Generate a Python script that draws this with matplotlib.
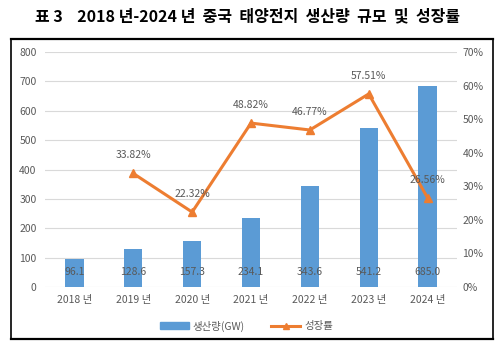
import matplotlib.pyplot as plt
from matplotlib.lines import Line2D
from matplotlib.patches import Patch
import numpy as np

years = ['2018 년', '2019 년', '2020 년', '2021 년', '2022 년', '2023 년', '2024 년']
output_gw = [96.1, 128.6, 157.3, 234.1, 343.6, 541.2, 685.0]
growth_years = ['2019 년', '2020 년', '2021 년', '2022 년', '2023 년', '2024 년']
growth_pct = [33.82, 22.32, 48.82, 46.77, 57.51, 26.56]

plt.rcParams['font.family'] = ['Noto Sans CJK KR', 'DejaVu Sans']

bar_color = '#5B9BD5'
line_color = '#ED7D31'
text_gray = '#595959'

fig = plt.figure(figsize=(5.03, 3.52), dpi=100)
W, H = 503, 352

# title and frame lines
fig.text(248 / W, 1 - 16 / H, '표 3    2018 년-2024 년  중국  태양전지  생산량  규모  및  성장률',
         ha='center', va='center', fontsize=11.5, fontweight='bold')
for (x0, y0, x1, y1, lw) in [(11, 39, 493, 39, 1.6), (11, 39, 11, 339, 1.2),
                             (493, 39, 493, 339, 1.2), (11, 339, 493, 339, 1.6)]:
    fig.add_artist(Line2D([x0 / W, x1 / W], [1 - y0 / H, 1 - y1 / H],
                          color='black', lw=lw, transform=fig.transFigure))

ax = fig.add_axes([45 / W, 1 - 287 / H, 412 / W, 235 / H])
x = np.arange(len(years))
ax.bar(x, output_gw, width=0.31, color=bar_color, zorder=2)
ax.set_xlim(-0.5, len(years) - 0.5)
ax.set_ylim(0, 800)
ax.set_yticks(range(0, 801, 100))
ax.set_xticks(x)
ax.set_xticklabels(years)
ax.grid(axis='y', color='#D9D9D9', lw=0.8, zorder=0)
for s in ax.spines.values():
    s.set_visible(False)
ax.tick_params(length=0, colors=text_gray, labelsize=7.5, pad=6)

for xi, v in zip(x, output_gw):
    ax.annotate(f'{v:.1f}', (xi, 0), xytext=(0, 11), textcoords='offset points',
                ha='center', va='center', fontsize=7.5, color=text_gray, zorder=4)

ax2 = ax.twinx()
gx = [years.index(y) for y in growth_years]
ax2.plot(gx, growth_pct, color=line_color, lw=2.2, marker='^', ms=6, zorder=3)
ax2.set_ylim(0, 70)
ax2.set_yticks(range(0, 71, 10))
ax2.set_yticklabels([f'{t}%' for t in range(0, 71, 10)])
for s in ax2.spines.values():
    s.set_visible(False)
ax2.tick_params(length=0, colors=text_gray, labelsize=7.5, pad=4)

for xi, v in zip(gx, growth_pct):
    ax2.annotate(f'{v:.2f}%', (xi, v), xytext=(0, 13), textcoords='offset points',
                 ha='center', va='center', fontsize=7.5, color=text_gray)

handles = [Patch(color=bar_color, label='생산량(GW)'),
           Line2D([], [], color=line_color, lw=2.2, marker='^', ms=5, label='성장률')]
fig.legend(handles=handles, loc='center', bbox_to_anchor=(0.49, 1 - 326 / H), ncol=2,
           frameon=False, fontsize=7.5, labelcolor=text_gray, handlelength=2.8,
           columnspacing=2.5, handletextpad=0.4)

fig.savefig('out.png', dpi=100)
